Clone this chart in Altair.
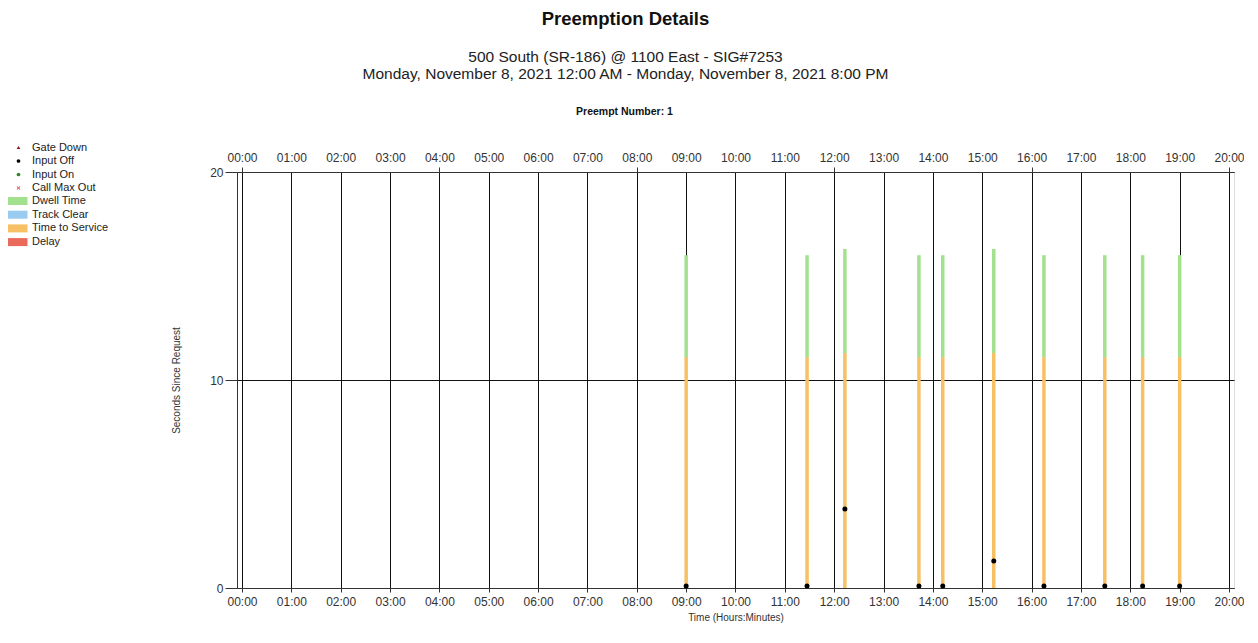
import altair as alt
import pandas as pd

FONT = "Liberation Sans"

# ---- data ----
event_times = ["09:00", "11:27", "12:13", "13:43", "14:12", "15:14", "16:15", "17:29", "18:15", "19:00"]
time_to_service = [11.1, 11.1, 11.3, 11.1, 11.1, 11.3, 11.1, 11.1, 11.1, 11.1]
dwell_time = [4.9, 4.9, 5.0, 4.9, 4.9, 5.0, 4.9, 4.9, 4.9, 4.9]
input_off = [0.1, 0.1, 3.8, 0.1, 0.1, 1.3, 0.1, 0.1, 0.1, 0.1]

phases = ["Dwell Time", "Track Clear", "Time to Service", "Delay"]
phase_colors = ["#a2e18e", "#98cbef", "#f8c065", "#e9695b"]
events = ["Gate Down", "Input Off", "Input On", "Call Max Out"]
event_colors = ["#8b1a1a", "#000000", "#2e8b2e", "#e03a3a"]
XPATH = "M-1,-0.7L-0.7,-1L0,-0.3L0.7,-1L1,-0.7L0.3,0L1,0.7L0.7,1L0,0.3L-0.7,1L-1,0.7L-0.3,0Z"
event_shapes = ["triangle-up", "circle", "circle", XPATH]

hour_ticks = list(range(0, 21))
y_ticks = [0, 10, 20]

title_text = "Preemption Details"
subtitle_lines = ["500 South (SR-186) @ 1100 East - SIG#7253",
                  "Monday, November 8, 2021 12:00 AM - Monday, November 8, 2021 8:00 PM"]
preempt_label = "Preempt Number: 1"
x_title = "Time (Hours:Minutes)"
y_title = "Seconds Since Request"

# ---- tables ----
def to_hours(s):
    h, m = s.split(":")
    return int(h) + int(m) / 60.0

hours = [to_hours(t) for t in event_times]
rows = []
for h, tts, dw in zip(hours, time_to_service, dwell_time):
    rows.append({"hour": h, "y0": 0.0, "y1": tts, "phase": "Time to Service"})
    rows.append({"hour": h, "y0": tts, "y1": tts + dw, "phase": "Dwell Time"})
bars_df = pd.DataFrame(rows)
pts_df = pd.DataFrame({"hour": hours, "value": input_off, "event": ["Input Off"] * len(hours)})

W, H = 997, 416
label_expr = "(datum.value < 10 ? '0' : '') + datum.value + ':00'"
x_scale = alt.Scale(domain=[0, 20], nice=False, zero=False)
y_scale = alt.Scale(domain=[0, 20], nice=False)

bottom_axis = alt.Axis(
    orient="bottom", values=hour_ticks, labelExpr=label_expr, labelFlush=False, labelOverlap=False,
    grid=True, gridColor="#111111", gridOpacity=1, gridWidth=1,
    domainColor="#333333", tickColor="#333333", tickSize=4, labelPadding=4,
    labelFontSize=12, labelFont=FONT, labelColor="#333333",
    title=x_title, titleFont=FONT, titleFontSize=10, titleFontWeight="normal", titleColor="#333333",
    titleX=W / 2, titleY=29, titleBaseline="middle",
)
top_axis = alt.Axis(
    orient="top", values=hour_ticks, labelExpr=label_expr, labelFlush=False, labelOverlap=False,
    grid=False, domainColor="#333333",
    tickColor={"condition": {"test": "datum.value % 4 === 0", "value": "#333333"}, "value": "transparent"},
    tickSize=5, labelPadding=3, labelFontSize=12, labelFont=FONT, labelColor="#333333",
    title=preempt_label, titleFont=FONT, titleFontSize=10.5, titleFontWeight="bold", titleColor="#111111",
    titleX=387, titleY=-61, titleBaseline="middle",
)
y_axis = alt.Axis(
    values=y_ticks, grid=True, gridColor="#111111", gridOpacity=1,
    domainColor="#333333", tickColor="#333333", tickSize=12, labelPadding=2,
    labelFontSize=12, labelFont=FONT, labelColor="#333333",
    title=y_title, titleFont=FONT, titleFontSize=10, titleFontWeight="normal", titleColor="#333333",
    titleX=-61, titleY=H / 2, titleAngle=-90, titleBaseline="middle",
)

RECT = "M-2,-0.8H2V0.8H-2Z"
phase_legend = alt.Legend(
    orient="none", legendX=-225, legendY=23.5, title=None, padding=0,
    symbolType=RECT, symbolSize=100, symbolStrokeWidth=0, symbolOpacity=1,
    labelOffset=9, rowPadding=1.7, labelFontSize=11, labelFont=FONT, labelColor="#222222",
)
event_legend = alt.Legend(
    orient="none", legendX=-224, legendY=-30, title=None, padding=0,
    symbolSize=14, symbolStrokeWidth=0, symbolOpacity=1,
    labelOffset=8, rowPadding=1.5, labelFontSize=11, labelFont=FONT, labelColor="#222222",
)

bars = alt.Chart(bars_df).mark_bar(size=3.5, opacity=1).encode(
    x=alt.X("hour:Q", scale=x_scale, axis=bottom_axis),
    y=alt.Y("y0:Q", scale=y_scale, axis=y_axis),
    y2="y1:Q",
    color=alt.Color("phase:N", scale=alt.Scale(domain=phases, range=phase_colors), legend=phase_legend),
)

points = alt.Chart(pts_df).mark_point(filled=True, size=25, opacity=1).encode(
    x=alt.X("hour:Q", scale=x_scale, axis=top_axis),
    y=alt.Y("value:Q", scale=y_scale, axis=y_axis),
    color=alt.Color("event:N", scale=alt.Scale(domain=events, range=event_colors), legend=event_legend),
    shape=alt.Shape("event:N", scale=alt.Scale(domain=events, range=event_shapes), legend=event_legend),
)

chart = alt.layer(bars, points).resolve_scale(
    color="independent", shape="independent"
).resolve_axis(x="independent").properties(
    width=W, height=H,
    autosize=alt.AutoSizeParams(type="none"),
    padding={"left": 229, "top": 164, "right": 10, "bottom": 36},
    title=alt.TitleParams(
        text=title_text, subtitle=subtitle_lines, font=FONT, fontSize=18.5, fontWeight="bold", color="#111111",
        subtitleFont=FONT, subtitleFontSize=15.5, subtitleColor="#222222", subtitleLineHeight=17,
        subtitlePadding=21, anchor="middle", frame="group", dx=-110, offset=24,
    ),
).configure_view(stroke=None).configure(background="white")

chart.save("out.html", embed_options={"renderer": "svg", "actions": False})
